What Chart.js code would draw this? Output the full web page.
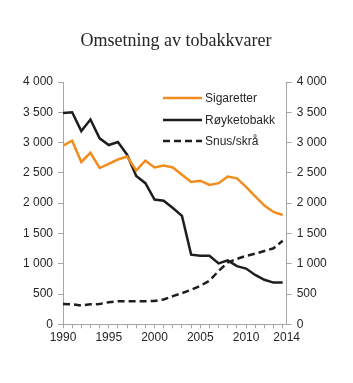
<!DOCTYPE html>
<html>
<head>
<meta charset="utf-8">
<script src="https://cdn.jsdelivr.net/npm/chart.js@4/dist/chart.umd.min.js"></script>
<style>
html,body{margin:0;padding:0;background:#fff;}
#wrap{width:353px;height:383px;position:relative;}
</style>
</head>
<body>
<div id="wrap"><canvas id="c" width="353" height="383"></canvas></div>
<script>
const title = "Omsetning av tobakkvarer";
const years = [1990,1991,1992,1993,1994,1995,1996,1997,1998,1999,2000,2001,2002,2003,2004,2005,2006,2007,2008,2009,2010,2011,2012,2013,2014];
const seriesNames = ["Sigaretter","Røyketobakk","Snus/skrå"];
const sigaretter = [2950,3030,2680,2830,2580,2650,2720,2770,2540,2700,2590,2620,2590,2470,2350,2370,2300,2330,2440,2410,2270,2110,1960,1855,1805];
const royketobakk = [3490,3500,3190,3380,3070,2960,3010,2800,2450,2330,2060,2040,1920,1790,1150,1130,1130,1005,1055,960,920,815,735,688,688];
const snus = [335,330,310,330,335,365,380,380,380,380,385,410,465,515,570,635,720,880,1020,1080,1130,1165,1210,1255,1380];
const xLabels = [1990,1995,2000,2005,2010,2014];
const yTicks = [0,500,1000,1500,2000,2500,3000,3500,4000];

const AX = '#a6a6a6';
const TXT = '#262626';
const colors = ['#F28C1C','#1e1e1e','#1e1e1e'];
const dashes = [[],[],[7,4]];
const values = [sigaretter, royketobakk, snus];

function fmt(v){
  if (v < 1000) return String(v);
  const t = Math.floor(v/1000), r = v % 1000;
  return t + ' ' + String(r).padStart(3,'0');
}
const XMAX = 2014.44;

const legendPlugin = {
  id:'customLegend',
  afterDraw(chart){
    const ctx = chart.ctx;
    ctx.save();
    const ys = [98,120,141];
    chart.data.datasets.forEach((ds,i)=>{
      ctx.strokeStyle = ds.borderColor;
      ctx.lineWidth = 2.5;
      ctx.setLineDash(ds.borderDash||[]);
      ctx.beginPath();
      ctx.moveTo(163, ys[i]);
      ctx.lineTo(202, ys[i]);
      ctx.stroke();
      ctx.setLineDash([]);
      ctx.fillStyle = TXT;
      ctx.font = '12px "Liberation Sans", Arial, sans-serif';
      ctx.textBaseline = 'middle';
      ctx.textAlign = 'left';
      ctx.fillText(ds.label, 205, ys[i]+0.5);
    });
    ctx.font = '18px "Liberation Serif", "Times New Roman", serif';
    ctx.fillStyle = TXT;
    ctx.textAlign = 'center';
    ctx.textBaseline = 'alphabetic';
    ctx.fillText(title, 176, 46);
    ctx.restore();
  }
};

new Chart(document.getElementById('c'), {
  type:'line',
  data:{
    datasets: seriesNames.map((n,i)=>({
      label:n,
      data: years.map((y,j)=>({x:y, y:values[i][j]})),
      borderColor: colors[i],
      borderWidth: 2.5,
      borderDash: dashes[i],
      pointRadius:0,
      tension:0,
      fill:false
    }))
  },
  options:{
    responsive:false,
    animation:false,
    layout:{padding:{top:82,left:0,right:0,bottom:0}},
    plugins:{legend:{display:false}, title:{display:false}, tooltip:{enabled:false}},
    scales:{
      x:{
        type:'linear', min:1990, max:XMAX,
        afterBuildTicks(s){
          const t = years.map(v=>({value:v}));
          t.push({value:XMAX});
          s.ticks = t;
        },
        afterFit(s){ s.height = 383-324.3; },
        border:{display:true,color:AX,width:1},
        grid:{drawOnChartArea:false, drawTicks:true, tickLength:4,
          color:(c)=> (c.tick && c.tick.value===XMAX) ? 'rgba(0,0,0,0)' : AX},
        ticks:{
          autoSkip:false, maxRotation:0, padding:2, color:TXT,
          font:{family:'"Liberation Sans", Arial, sans-serif', size:12},
          callback:(v)=>{
            if (v===XMAX) return '2014';
            if (xLabels.includes(v) && v!==2014) return String(v);
            return '';
          }
        }
      },
      y:{
        type:'linear', position:'left', min:0, max:4000,
        afterBuildTicks(s){ s.ticks = yTicks.map(v=>({value:v})); },
        afterFit(s){ s.width = 63; },
        border:{display:true,color:AX,width:1},
        grid:{drawOnChartArea:false, drawTicks:true, tickLength:5, color:AX},
        ticks:{padding:5, color:TXT, font:{family:'"Liberation Sans", Arial, sans-serif', size:12}, callback:(v)=>fmt(v)}
      },
      y2:{
        type:'linear', position:'right', min:0, max:4000,
        afterBuildTicks(s){ s.ticks = yTicks.map(v=>({value:v})); },
        afterFit(s){ s.width = 353-286.7; },
        border:{display:true,color:AX,width:1},
        grid:{drawOnChartArea:false, drawTicks:true, tickLength:5, color:AX},
        ticks:{padding:5, color:TXT, font:{family:'"Liberation Sans", Arial, sans-serif', size:12}, callback:(v)=>fmt(v)}
      }
    }
  },
  plugins:[legendPlugin]
});
</script>
</body>
</html>
